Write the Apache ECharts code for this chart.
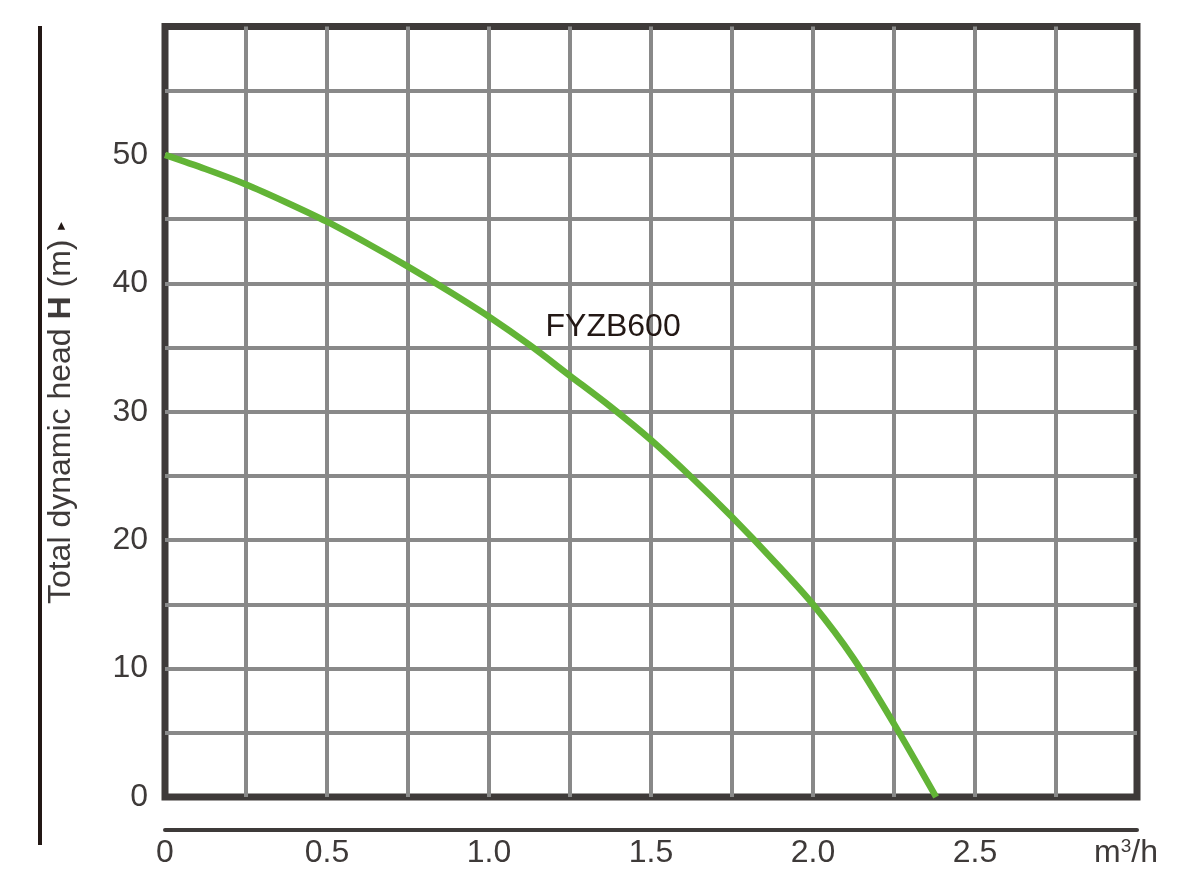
<!DOCTYPE html>
<html>
<head>
<meta charset="utf-8">
<script src="https://cdn.jsdelivr.net/npm/echarts@6/dist/echarts.min.js"></script>
<style>
html,body{margin:0;padding:0;background:#fff;}
#chart{width:1191px;height:887px;}
</style>
</head>
<body>
<div id="chart"></div>
<script>
// Data
var flow = [0, 0.125, 0.25, 0.375, 0.5, 0.625, 0.75, 0.875, 1.0, 1.125, 1.25, 1.375, 1.5, 1.625, 1.75, 1.875, 2.0, 2.125, 2.25, 2.38];
var head = [50, 48.9, 47.7, 46.3, 44.8, 43.1, 41.3, 39.4, 37.4, 35.2, 32.8, 30.4, 27.8, 24.9, 21.8, 18.5, 15.0, 10.8, 5.7, 0];
var seriesName = 'FYZB600';
var seriesLabelAt = [1.383, 36.6];
var yTickLabels = [0, 10, 20, 30, 40, 50];
var xTickLabels = ['0', '0.5', '1.0', '1.5', '2.0', '2.5'];

var FONT = '"Liberation Sans", Arial, Helvetica, sans-serif';
var FS = 32;
var chart = echarts.init(document.getElementById('chart'));

var points = flow.map(function (x, i) { return [x, head[i]]; });

chart.setOption({
  animation: false,
  backgroundColor: '#ffffff',
  grid: {
    left: 165, right: 54, top: 26.5, bottom: 90,
    show: true,
    borderColor: '#3e3a39',
    borderWidth: 7,
    backgroundColor: 'transparent'
  },
  xAxis: {
    type: 'value',
    min: 0, max: 3, interval: 0.25,
    offset: 33,
    axisLine: { show: true, onZero: false, lineStyle: { color: '#3e3a39', width: 4 } },
    axisTick: { show: false },
    axisLabel: {
      margin: 7,
      color: '#3e3a39',
      fontFamily: FONT,
      fontSize: FS,
      formatter: function (v) {
        if (Math.abs(v - 3) < 1e-9) return '{u|m}{s|3}{h|/h}';
        var k = Math.round(v * 2);
        if (Math.abs(v * 2 - k) < 1e-9 && k < xTickLabels.length) return xTickLabels[k];
        return '';
      },
      rich: {
        u: { fontSize: FS, color: '#3e3a39', fontFamily: FONT, verticalAlign: 'bottom' },
        s: { fontSize: 19, color: '#3e3a39', fontFamily: FONT, verticalAlign: 'top' },
        h: { fontSize: FS, color: '#3e3a39', fontFamily: FONT, verticalAlign: 'bottom', padding: [0, 22, 0, 0] }
      }
    },
    splitLine: {
      show: true, showMinLine: false, showMaxLine: false,
      lineStyle: { color: '#898989', width: 4 }
    }
  },
  yAxis: {
    type: 'value',
    min: 0, max: 60, interval: 5,
    axisLine: { show: false },
    axisTick: { show: false },
    axisLabel: {
      margin: 17,
      color: '#3e3a39',
      fontFamily: FONT,
      fontSize: FS,
      formatter: function (v) {
        return yTickLabels.indexOf(v) >= 0 ? String(v) : '';
      }
    },
    splitLine: {
      show: true, showMinLine: false, showMaxLine: false,
      lineStyle: { color: '#898989', width: 4 }
    },
    name: '{a|Total dynamic head }{b|H}{a| (m)}{c|  ►}',
    nameLocation: 'middle',
    nameRotate: 90,
    nameGap: 88,
    nameTextStyle: {
      rich: {
        a: { fontSize: FS, color: '#3e3a39', fontFamily: FONT },
        b: { fontSize: FS, color: '#3e3a39', fontFamily: FONT, fontWeight: 'bold' },
        c: { fontSize: 13, color: '#231815', fontFamily: FONT }
      }
    }
  },
  graphic: [{
    type: 'line',
    shape: { x1: 40, y1: 26, x2: 40, y2: 845 },
    style: { stroke: '#231815', lineWidth: 4 },
    silent: true
  }],
  series: [{
    name: seriesName,
    type: 'line',
    data: points,
    smooth: 0.3,
    showSymbol: false,
    clip: false,
    lineStyle: { color: '#62b436', width: 6.5 },
    z: 5,
    markPoint: {
      symbol: 'circle',
      symbolSize: 0,
      data: [{ coord: seriesLabelAt }],
      label: {
        show: true,
        position: 'inside',
        formatter: seriesName,
        color: '#231815',
        fontFamily: FONT,
        fontSize: FS
      }
    }
  }]
});
</script>
</body>
</html>
